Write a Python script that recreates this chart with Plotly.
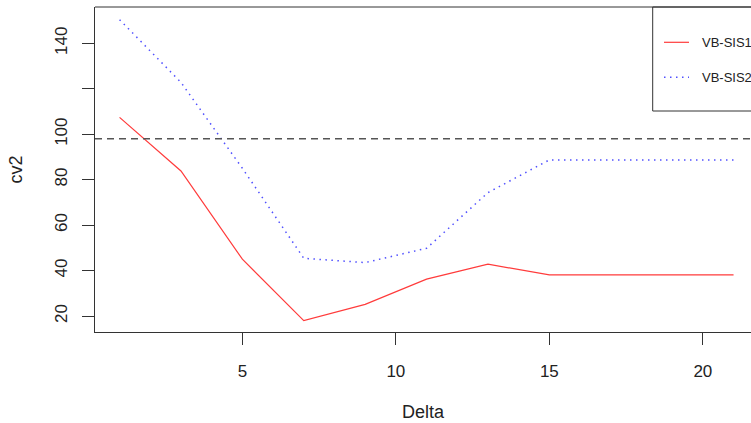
import plotly.graph_objects as go

# ---- data ----
delta = [1, 3, 5, 7, 9, 11, 13, 15, 17, 19, 21]
vb_sis1 = [107.4, 83.8, 45.0, 18.0, 25.1, 36.2, 42.8, 38.1, 38.1, 38.1, 38.1]
vb_sis2 = [150.4, 122.8, 85.0, 45.4, 43.5, 49.8, 74.3, 88.7, 88.7, 88.7, 88.7]
ref_level = 98
series_names = ["VB-SIS1", "VB-SIS2"]
x_ticks = [5, 10, 15, 20]
y_ticks = [20, 40, 60, 80, 100, 120, 140]
y_tick_labels = ["20", "40", "60", "80", "100", "", "140"]
x_title = "Delta"
y_title = "cv2"

# ---- layout geometry ----
W, H = 751, 423
L, R, T, B = 95, 0, 7, 91
PW, PH = W - L - R, H - T - B

def px_x(px):
    return (px - L) / PW

def px_y(py):
    return (H - B - py) / PH

FONT = "Liberation Sans, Arial, Helvetica, sans-serif"
AXIS_COL = "#333333"
red = "#ff3b3b"
blue = "#5050ff"
red_style = dict(color=red, width=1.2)
blue_style = dict(color=blue, width=1.5, dash="1.5px,4.5px")

fig = go.Figure()
fig.add_trace(go.Scatter(x=delta, y=vb_sis1, mode="lines", name=series_names[0],
                         line=red_style, showlegend=False))
fig.add_trace(go.Scatter(x=delta, y=vb_sis2, mode="lines", name=series_names[1],
                         line=blue_style, showlegend=False))

shapes = []
# horizontal reference line
shapes.append(dict(type="line", xref="paper", x0=0, x1=1, yref="y", y0=ref_level, y1=ref_level,
                   line=dict(color="#555555", width=1.5, dash="7px,5px"), layer="above"))
# top border of box (right side is clipped in the reference)
shapes.append(dict(type="line", xref="paper", yref="paper", x0=0, x1=1.02, y0=1, y1=1,
                   line=dict(color=AXIS_COL, width=1)))

# manual legend
lg_left, lg_bottom = px_x(652.7), px_y(111)
shapes.append(dict(type="rect", xref="paper", yref="paper", x0=lg_left, x1=1.05, y0=lg_bottom, y1=1,
                   line=dict(color=AXIS_COL, width=1), fillcolor="rgba(0,0,0,0)"))
leg_y = [px_y(42.3), px_y(77.3)]
leg_styles = [red_style, blue_style]
annotations = []
for name, yy, st in zip(series_names, leg_y, leg_styles):
    shapes.append(dict(type="line", xref="paper", yref="paper", x0=px_x(664), x1=px_x(689),
                       y0=yy, y1=yy, line=st))
    annotations.append(dict(text=name, xref="paper", yref="paper", x=px_x(700), y=yy,
                            xanchor="left", yanchor="middle", showarrow=False,
                            font=dict(family=FONT, size=13, color="#222222")))

# axis titles
annotations.append(dict(text=x_title, xref="paper", yref="paper", x=0.5, y=px_y(412),
                        xanchor="center", yanchor="middle", showarrow=False,
                        font=dict(family=FONT, size=18, color="#222222")))
annotations.append(dict(text=y_title, xref="paper", yref="paper", x=px_x(15), y=0.5,
                        xanchor="center", yanchor="middle", showarrow=False, textangle=-90,
                        font=dict(family=FONT, size=18, color="#222222")))

fig.update_layout(
    width=W, height=H,
    margin=dict(l=L, r=R, t=T, b=B, pad=0),
    paper_bgcolor="white", plot_bgcolor="white",
    showlegend=False,
    shapes=shapes, annotations=annotations,
    xaxis=dict(range=[0.2, 0.2 + PW / 30.7], tickvals=x_ticks, ticks="outside", ticklen=12,
               tickcolor=AXIS_COL, showgrid=False, zeroline=False, showline=True,
               linecolor=AXIS_COL, linewidth=1, ticklabelstandoff=12,
               tickfont=dict(family=FONT, size=17, color="#222222")),
    yaxis=dict(range=[12.96, 155.97], tickvals=y_ticks, ticktext=y_tick_labels, ticks="outside",
               ticklen=12, tickcolor=AXIS_COL, showgrid=False, zeroline=False, showline=True,
               linecolor=AXIS_COL, linewidth=1, tickangle=-90, ticklabelstandoff=8,
               tickfont=dict(family=FONT, size=17, color="#222222")),
)

fig.write_html("out.html")
